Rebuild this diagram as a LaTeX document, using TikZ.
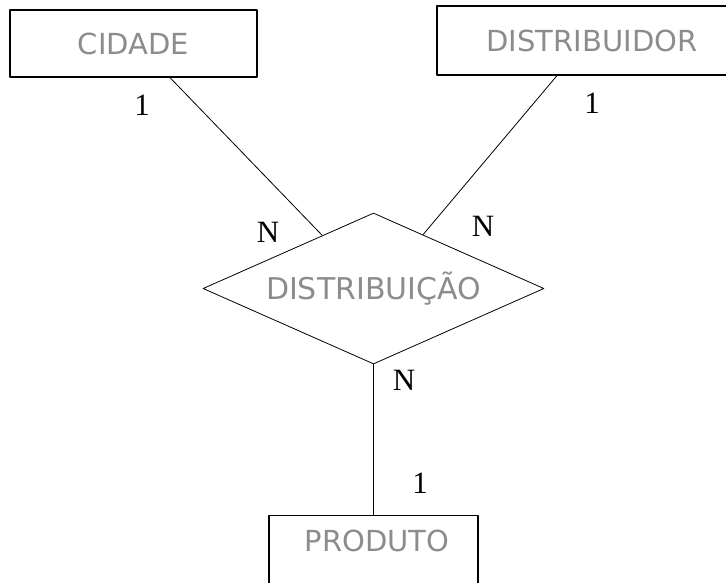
\documentclass[tikz,border=0pt]{standalone}
\usepackage{fontspec}
\newfontfamily\entfont{DejaVu Sans}
\newfontfamily\cardfont{Liberation Serif}
\usetikzlibrary{shapes.geometric,calc}
\begin{document}
\begin{tikzpicture}[x=1pt, y=-1pt, line cap=round, line join=round]
			\tikzset{entity/.style={draw, line width=1.2pt, inner sep=0pt, text=black!45, font=\entfont\fontsize{29}{34}\selectfont},
				relation/.style={draw, diamond, line width=0.8pt, inner sep=0pt, aspect=2.26, minimum width=341pt, minimum height=151pt, text=black!45, font=\entfont\fontsize{30}{34}\selectfont},
				card/.style={font=\cardfont\fontsize{31}{36}\selectfont},
				link/.style={line width=0.8pt}}
			\clip (0,0) rectangle (726,582);
			\node[entity, minimum width=247pt, minimum height=67pt] (cidade) at (133.5,43.5) {CIDADE};
			\node[entity, minimum width=310pt, minimum height=69pt] (distribuidor) at (592,40.5) {DISTRIBUIDOR};
			\node[relation] (distribuicao) at (373.5,288.5) {DISTRIBUIÇÃO};
			\node[entity, minimum width=209pt, minimum height=90pt, anchor=north] (produto) at (373.5,515) {};
			\node[text=black!45, font=\entfont\fontsize{29}{34}\selectfont] (produtotxt) at (377,541) {PRODUTO};
			\draw[link] ([xshift=36.5pt]cidade.south) -- ($(distribuicao.west)!0.7!(distribuicao.north)$);
			\draw[link] ([xshift=-35pt]distribuidor.south) -- ($(distribuicao.north)!0.29!(distribuicao.east)$);
			\draw[link] (distribuicao.south) -- (produto.north);
			\node[card] (c1) at (142,105) {1};
			\node[card] (c2) at (592,103) {1};
			\node[card] (n1) at (268,232) {N};
			\node[card] (n2) at (483,226) {N};
			\node[card] (n3) at (404,380) {N};
			\node[card] (c3) at (420,483) {1};
		\end{tikzpicture}
\end{document}
